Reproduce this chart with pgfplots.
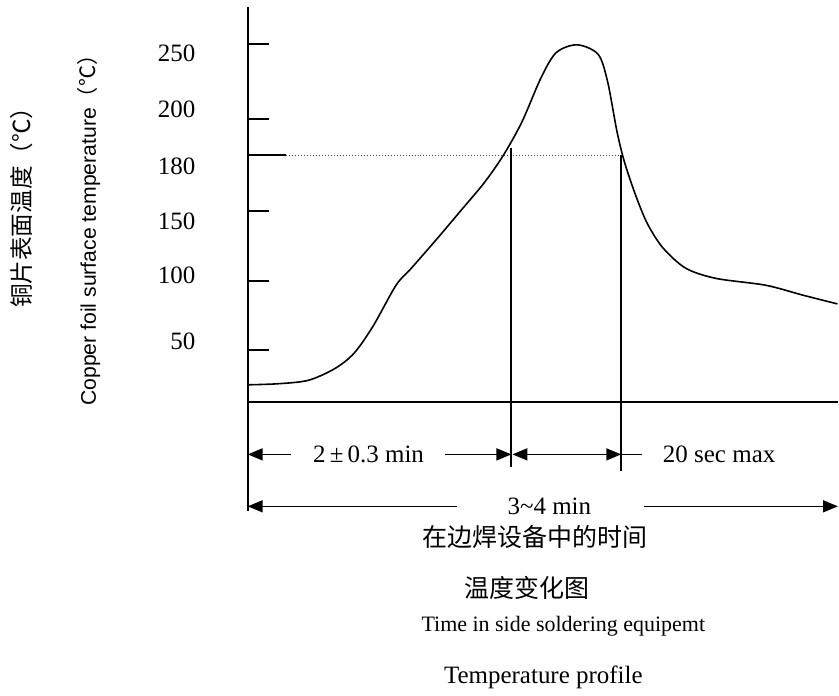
\documentclass[border=0pt]{standalone}
\usepackage{fontspec}
\setmainfont{Liberation Serif}
\setsansfont{Liberation Sans}
\newfontfamily\cjk{Noto Sans CJK SC}
\usepackage{pgfplots}
\pgfplotsset{compat=1.18}
\usetikzlibrary{arrows.meta}
\tikzset{
  arr/.style={-{Triangle[length=7.5pt,width=6pt]},line width=0.8pt,black},
  darr/.style={{Triangle[length=7.5pt,width=6pt]}-{Triangle[length=7.5pt,width=6pt]},line width=0.8pt,black},
  lbl/.style={font=\fontsize{12.5}{14}\selectfont},
}
\begin{document}
\begin{tikzpicture}
\begin{axis}[
  scale only axis, width=295.5pt, height=194pt,
  xmin=0, xmax=591, ymin=0, ymax=388,
  enlargelimits=false,
  axis line style={draw=none},
  clip=false,
  xtick=\empty,
  ytick={343,288,232,178,125,60},
  yticklabels={250,200,180,150,100,50},
  ytick pos=left,
  major tick length=0pt,
  yticklabel style={anchor=east,inner sep=0pt,xshift=-26pt,font=\fontsize{12.5}{14}\selectfont},
  extra y ticks={351.7,278,187.5,119,51},
  extra y tick labels={},
  extra y tick style={major tick length=10.5pt,tick align=inside,tick style={line width=1pt,black}},
  /pgf/number format/assume math mode=true,
]
% page frame in pixel units (1 unit = 0.5pt)
\path (axis cs:-248,-284) rectangle (axis cs:591,395);
% temperature curve
\addplot[smooth,line width=0.8pt,black] coordinates {
  (0,17.3) (30,18.3) (60.7,21.7) (87.4,33.3) (106.5,48.3) (125.6,75)
  (148.5,115) (163.8,131.7) (190.5,161.7) (213.4,188.3) (236.3,215)
  (255.4,241.7) (274.4,275) (293.5,318.3) (308.8,343.3) (329.8,351)
  (350.8,341.7) (360.3,315) (369.9,265) (377.5,235) (389,201.7)
  (400.4,175) (415.7,151.7) (438.6,131.7) (469,121.7) (518.7,115)
  (556.9,105) (590.5,96.7)
};
% axes
\addplot[line width=1pt,black] coordinates {(0,388) (0,-107)};
\addplot[line width=1pt,black] coordinates {(0,0) (591,0)};
% 180 level
\addplot[line width=1pt,black] coordinates {(0,242.5) (38,242.5)};
\addplot[densely dotted,line width=0.5pt,black!70] coordinates {(38,242.5) (374,242.5)};
% vertical markers
\addplot[line width=0.9pt,black] coordinates {(264,250) (264,-63)};
\addplot[line width=0.9pt,black] coordinates {(374,242.5) (374,-67)};
% dimension arrows
\addplot[arr] coordinates {(43.5,-51) (0,-51)};
\addplot[arr] coordinates {(198,-51) (264,-51)};
\addplot[darr] coordinates {(265,-51) (374,-51)};
\addplot[line width=0.8pt,black] coordinates {(374,-51) (395,-51)};
\addplot[arr] coordinates {(209.6,-102) (0,-102)};
\addplot[arr] coordinates {(396.6,-102) (591,-102)};
\node[lbl] at (axis cs:121,-51) {2\,±\,0.3 min};
\node[lbl] at (axis cs:472,-51) {20 sec max};
\node[lbl] at (axis cs:302,-102) {3\textasciitilde4 min};
% captions
\node[font=\cjk\fontsize{12.5}{14}\selectfont] at (axis cs:288,-132) {在边焊设备中的时间};
\node[font=\cjk\fontsize{12.5}{14}\selectfont] at (axis cs:280,-182) {温度变化图};
\node[font=\fontsize{11}{13}\selectfont] at (axis cs:316,-220) {Time in side soldering equipemt};
\node[font=\fontsize{12.5}{14}\selectfont] at (axis cs:296,-270) {Temperature profile};
% axis titles
\node[rotate=90,font=\sffamily\fontsize{10.6}{12}\selectfont] at (axis cs:-159,174) {Copper foil surface temperature{\cjk （℃）}};
\node[rotate=90,font=\cjk\fontsize{11.8}{13}\selectfont] at (axis cs:-226,197) {铜片表面温度（℃）};
\end{axis}
\end{tikzpicture}
\end{document}
